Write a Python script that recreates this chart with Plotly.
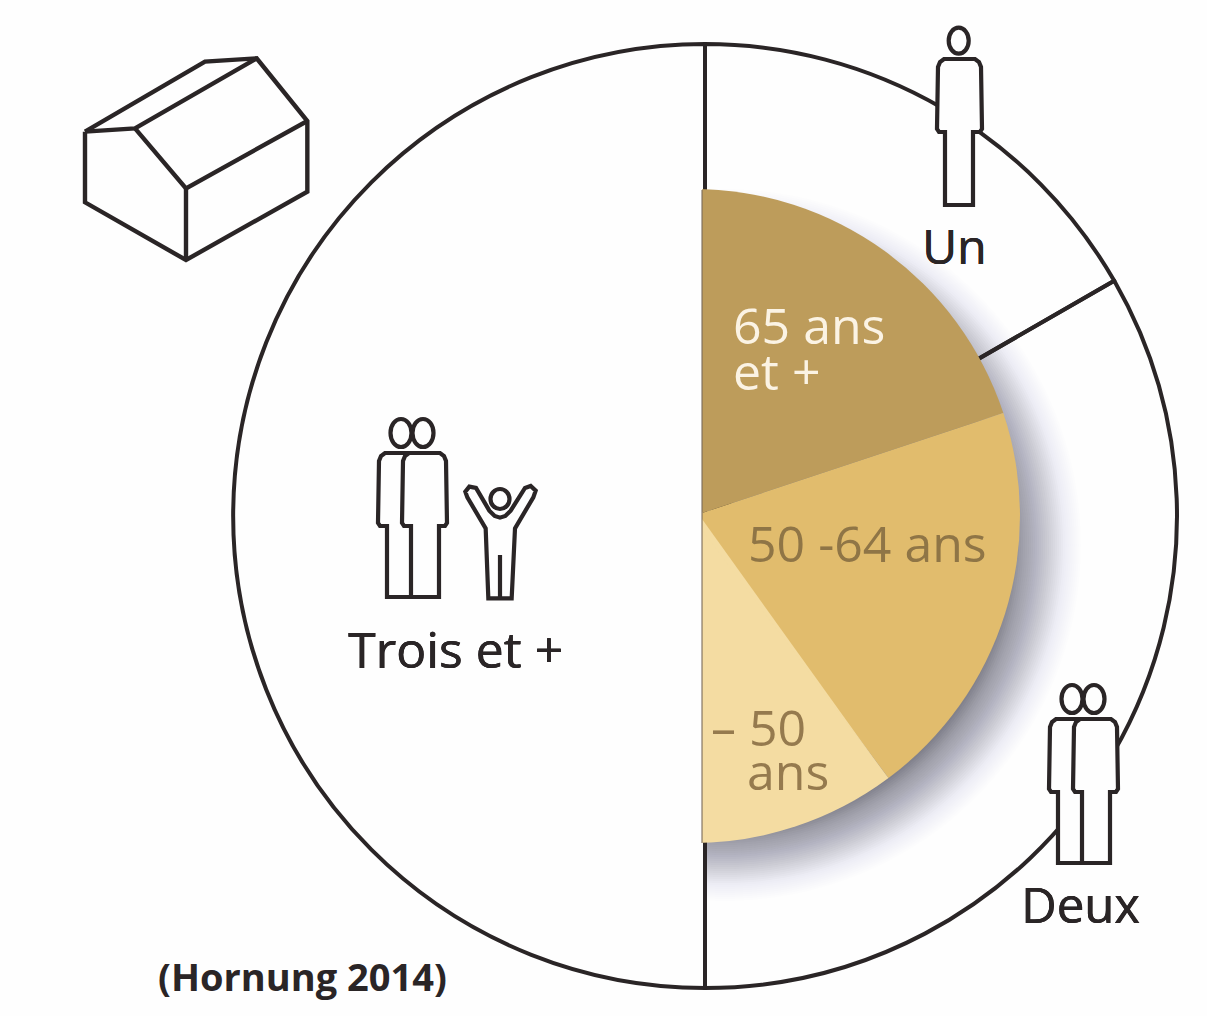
import numpy as np
import plotly.graph_objects as go

W, H = 1207, 1016
INK = "#2a2526"
BG = "#fefefe"
LW = 4.2

# Data
household_labels = ["Un", "Deux", "Trois et +"]
household_values = [16.7, 33.3, 50.0]
age_labels = ["65 ans et +", "50-64 ans", "- 50 ans", ""]
age_values = [19.9, 19.9, 10.2, 50.0]
age_colors = ["#BD9C5B", "#E1BC6D", "#F4DCA2", "rgba(0,0,0,0)"]

def px(x): return x / W
def py(y): return 1 - y / H

def poly(pts, close=True):
    s = "M" + " L".join(f"{px(x):.5f},{py(y):.5f}" for x, y in pts)
    return s + (" Z" if close else "")

def path_shape(pts, close=True, fill=None, lw=LW, color=INK, layer="above"):
    return dict(type="path", xref="paper", yref="paper", path=poly(pts, close),
                line=dict(color=color, width=lw), fillcolor=fill or "rgba(0,0,0,0)", layer=layer)

def head(cx, cy, rx, ry):
    return dict(type="circle", xref="paper", yref="paper", x0=px(cx - rx), x1=px(cx + rx),
                y0=py(cy + ry), y1=py(cy - ry), line=dict(color=INK, width=LW), fillcolor=BG)

def body(l, r, top, hip, legl, legr, bottom):
    return [(l, top + 9), (l + 2, top + 4), (l + 6, top + 1), (r - 6, top + 1), (r - 2, top + 4), (r, top + 9),
            (r + 1, hip - 3), (r - 1, hip), (legr, hip), (legr, bottom), (legl, bottom), (legl, hip),
            (l + 1, hip), (l - 1, hip - 3)]

shapes = []

# soft shadow on the right half, below the traces
t = np.linspace(0, 2 * np.pi, 241)
shadow_r = [280, 285, 296, 311, 326, 341, 358]
shadow_a = [0.68, 0.60, 0.46, 0.33, 0.20, 0.07, 0.0]
radii = np.arange(358, 279, -2.0)
prev = 0.0
for r in radii:
    cum = float(np.interp(r, shadow_r, shadow_a))
    a = 1 - (1 - cum) / (1 - prev)
    prev = cum
    if a <= 0:
        continue
    xs = np.maximum(725 + r * np.cos(t), 705)
    ys = 545 + r * np.sin(t)
    shapes.append(dict(type="path", xref="paper", yref="paper", path=poly(list(zip(xs, ys))),
                       line=dict(width=0), fillcolor=f"rgba(58,58,72,{a:.4f})", layer="below"))

# white mask: trims the inner disc to the right of the axis
shapes.append(dict(type="rect", xref="paper", yref="paper", x0=px(680), x1=px(702), y0=py(850), y1=py(180),
                   line=dict(width=0), fillcolor=BG, layer="above"))
# apex correction of the pale slice and soft left edge of the disc
shapes.append(path_shape([(702, 519), (702, 530), (887, 777)], fill="#F4DCA2", lw=0))
shapes.append(path_shape([(702, 190), (702, 843)], close=False, lw=2, color="rgba(120,105,90,0.55)"))

# house
A, B, C, D, E, F, G, Hh, I = [(60 + x / 3, 40 + y / 3) for x, y in
    [(75, 275), (225, 265), (435, 65), (590, 55), (742, 243), (742, 455), (378, 660), (75, 487), (378, 445)]]
for seg in ([A, C, D, E, F, G, Hh, A], [A, B, D], [B, I, E], [I, G]):
    shapes.append(path_shape(seg, close=False, lw=4.4))

# single person
shapes.append(path_shape(body(938, 981, 58, 132, 945, 973, 205), fill=BG))
shapes.append(head(958.7, 40.7, 10, 13))

# pair of persons
def pair(dx, dy):
    out = [path_shape([(p[0] + dx, p[1] + dy) for p in body(379, 425, 452, 526, 387, 420, 597)], fill=BG)]
    out.append(path_shape([(p[0] + dx, p[1] + dy) for p in body(403, 446, 452, 526, 411, 439, 597)], fill=BG))
    out.append(head(401 + dx, 433 + dy, 10.5, 14))
    out.append(head(423 + dx, 433 + dy, 10.5, 14))
    return out

shapes += pair(0, 0)
shapes += pair(671, 266)

# child
child = [(445, 595), (437, 385), (382, 292), (376, 275), (388, 260), (408, 264), (448, 332), (464, 348), (480, 353),
         (496, 348), (512, 332), (555, 264), (572, 258), (587, 272), (580, 292), (525, 385), (515, 595)]
shapes.append(path_shape([(340 + x / 3, 400 + y / 3) for x, y in child], fill=BG))
shapes.append(path_shape([(500, 555), (500, 598)], close=False))
shapes.append(head(500, 499, 9.5, 10))

fig = go.Figure()
fig.add_trace(go.Pie(labels=household_labels, values=household_values, sort=False, direction="clockwise",
                     rotation=0, textinfo="none", hoverinfo="label+percent",
                     marker=dict(colors=["rgba(0,0,0,0)"] * 3, line=dict(color=INK, width=4)),
                     domain=dict(x=[px(233), px(1177)], y=[py(988), py(44)])))
fig.add_trace(go.Pie(labels=age_labels, values=age_values, sort=False, direction="clockwise",
                     rotation=0, textinfo="none", hoverinfo="label+percent",
                     marker=dict(colors=age_colors, line=dict(width=0)),
                     domain=dict(x=[px(693 - 327), px(693 + 327)], y=[py(843), py(189)])))

HEAVY = f"0.6px 0 0 {INK}, 0 0.4px 0 {INK}"
text_items = [
    ("65 ans", 731, 325, 50, "#FBF3E4", "none"),
    ("et +", 731, 371, 50, "#FBF3E4", "none"),
    ("50 -64 ans", 746, 543, 50, "#8F7546", "none"),
    ("– 50", 709, 727, 50, "#957A4E", "none"),
    ("ans", 745, 771, 50, "#957A4E", "none"),
    ("Un", 920, 245, 48, INK, HEAVY),
    ("Trois et +", 346, 649, 50, INK, HEAVY),
    ("Deux", 1019, 904, 49, INK, HEAVY),
]
annotations = [dict(text=s, x=px(x), y=py(y), xref="paper", yref="paper", xanchor="left", yanchor="middle",
                    showarrow=False, font=dict(family="Open Sans", size=size, color=c, shadow=sh))
               for s, x, y, size, c, sh in text_items]
annotations.append(dict(text="<b>(Hornung 2014)</b>", x=px(156), y=py(976), xref="paper", yref="paper",
                        xanchor="left", yanchor="middle", showarrow=False,
                        font=dict(family="Open Sans", size=38, color=INK)))

fig.update_layout(width=W, height=H, margin=dict(l=0, r=0, t=0, b=0), showlegend=False,
                  paper_bgcolor=BG, plot_bgcolor=BG, shapes=shapes, annotations=annotations)
fig.write_html("out.html", post_script="document.body.style.margin='0';document.body.style.background='#fefefe';",
               config=dict(displayModeBar=False))
